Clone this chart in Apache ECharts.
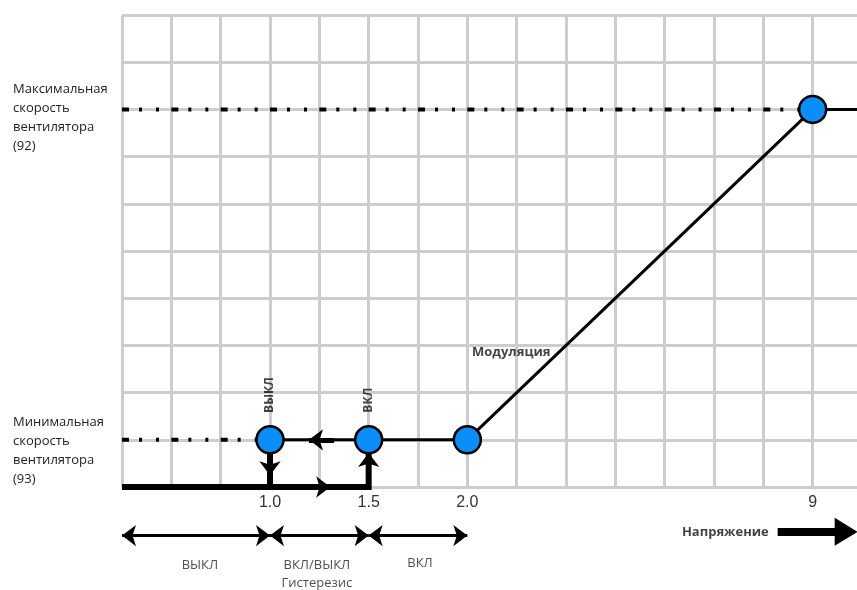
<!DOCTYPE html>
<html><head><meta charset="utf-8">
<script src="https://cdn.jsdelivr.net/npm/echarts@6/dist/echarts.min.js"></script>
<style>html,body{margin:0;padding:0;background:#fff}#c{width:857px;height:590px}</style>
</head><body><div id="c"></div>
<script>
// ---------- data (grid units: x = voltage grid columns, y = fan-speed grid rows) ----------
const xTickLabels = {3: '1.0', 5: '1.5', 7: '2.0', 14: '9'};
const yTickLabels = {
  8: '{s8| }\nМаксимальная\nскорость\nвентилятора\n(92)',
  1: '{s1| }\nМинимальная\nскорость\nвентилятора\n(93)'
};
const fanCurve = [[3, 1], [5, 1], [7, 1], [14, 8], [15, 8]];
const setPoints = [[3, 1], [5, 1], [7, 1], [14, 8]];
const maxGuide = [[0, 8], [14, 8]];
const minGuide = [[0, 1], [3, 1]];
const hysteresisPath = [[0, 0], [5, 0], [5, 1]];
const offDrop = [[3, 1], [3, 0]];
// flow arrows: [tail, tip]
const flowArrows = [
  [[4.3, 1], [3.79, 1]],
  [[3.6, 0], [4.22, 0]],
  [[3, 0.7], [3, 0.25]],
  [[5, 0.2], [5, 0.72]]
];
const rangeBands = [[0, 3], [3, 5], [5, 7]];
const rangeY = -1.03;
const rangeLabels = [
  {name: 'ВЫКЛ', value: [1.58, -1.65]},
  {name: 'ВКЛ/ВЫКЛ\nГистерезис', value: [3.95, -1.84]},
  {name: 'ВКЛ', value: [6.04, -1.61]}
];
const voltageArrow = [[13.29, -0.95], [14.68, -0.95]];
const pointLabels = [
  {name: 'ВЫКЛ', value: [3, 1.95], rotate: 90},
  {name: 'ВКЛ', value: [5, 1.84], rotate: 90}
];
const modLabel = {name: 'Модуляция', value: [7.89, 2.86]};
const voltLabel = {name: 'Напряжение', value: [12.23, -0.95]};

// ---------- layout ----------
const GRID = {left: 122, top: 15, width: 740, height: 472};
const X_MAX = 15, Y_MAX = 10;

const chart = echarts.init(document.getElementById('c'));
const txt = '#222';
const sans = '"Open Sans", "Noto Sans", sans-serif';

chart.setOption({
  backgroundColor: '#fff',
  animation: false,
  grid: Object.assign({outerBoundsMode: 'none', containLabel: false}, GRID),
  xAxis: {
    type: 'value', min: 0, max: X_MAX, interval: 1,
    axisLine: {show: false}, axisTick: {show: false},
    splitLine: {show: true, lineStyle: {color: '#cdcdcd', width: 3}},
    axisLabel: {
      margin: 8, color: '#333', fontSize: 16, fontFamily: '"Liberation Sans", Arial, sans-serif',
      showMinLabel: true, showMaxLabel: true,
      formatter: v => xTickLabels[v] || ''
    }
  },
  yAxis: {
    type: 'value', min: 0, max: Y_MAX, interval: 1,
    axisLine: {show: false}, axisTick: {show: false},
    splitLine: {show: true, lineStyle: {color: '#cdcdcd', width: 3}},
    axisLabel: {
      align: 'left', margin: 109, color: txt, fontSize: 13, lineHeight: 19,
      fontFamily: sans,
      rich: {s8: {lineHeight: 17, fontSize: 6}, s1: {lineHeight: 22, fontSize: 6}},
      formatter: v => yTickLabels[v] || ''
    }
  },
  series: [
    {type: 'line', data: maxGuide, symbol: 'none', z: 3,
      lineStyle: {color: '#000', width: 4, type: [7, 10, 3, 14, 3, 12.33]}},
    {type: 'line', data: minGuide, symbol: 'none', z: 3,
      lineStyle: {color: '#000', width: 4, type: [7, 10, 3, 14, 3, 12.33]}},
    {type: 'line', data: hysteresisPath, symbol: 'none', z: 4, clip: false,
      lineStyle: {color: '#000', width: 6, join: 'miter', cap: 'butt'}},
    {type: 'line', data: offDrop, symbol: 'none', z: 4, clip: false,
      lineStyle: {color: '#000', width: 6}},
    {type: 'line', data: fanCurve, symbol: 'none', z: 5, clip: false,
      lineStyle: {color: '#000', width: 3}},
    {type: 'lines', coordinateSystem: 'cartesian2d', z: 6, clip: false,
      symbol: ['none', 'arrow'], symbolSize: [[1, 1], [16, 14]],
      lineStyle: {color: '#000', width: 5, opacity: 1},
      data: flowArrows.map(a => ({coords: a}))},
    {type: 'scatter', data: setPoints, symbol: 'circle', symbolSize: 27, z: 8,
      itemStyle: {color: '#0A8FFA', borderColor: '#000', borderWidth: 2.5, opacity: 1}},
    {type: 'lines', coordinateSystem: 'cartesian2d', z: 6, clip: false,
      symbol: ['arrow', 'arrow'], symbolSize: [[16, 14], [16, 14]],
      lineStyle: {color: '#000', width: 3, opacity: 1},
      data: rangeBands.map(b => ({coords: [[b[0], rangeY], [b[1], rangeY]]}))},
    {type: 'lines', coordinateSystem: 'cartesian2d', z: 6, clip: false,
      symbol: ['none', 'triangle'], symbolSize: [[1, 1], [28, 23]],
      lineStyle: {color: '#000', width: 8, opacity: 1},
      data: [{coords: voltageArrow}]},
    {type: 'scatter', z: 9, clip: false, symbol: 'circle', symbolSize: 1,
      itemStyle: {color: 'rgba(0,0,0,0)'},
      label: {show: true, position: 'inside', formatter: '{b}', color: txt,
        fontFamily: sans, fontSize: 13, lineHeight: 18},
      data: rangeLabels},
    {type: 'scatter', z: 9, clip: false, symbol: 'circle', symbolSize: 1,
      itemStyle: {color: 'rgba(0,0,0,0)'},
      label: {show: true, position: 'inside', formatter: '{b}', color: '#111',
        fontFamily: sans, fontSize: 13, fontWeight: 'bold'},
      data: pointLabels.map(p => ({name: p.name, value: p.value, label: {rotate: p.rotate, fontSize: 12}}))
        .concat([modLabel, voltLabel])}
  ]
});
</script></body></html>
